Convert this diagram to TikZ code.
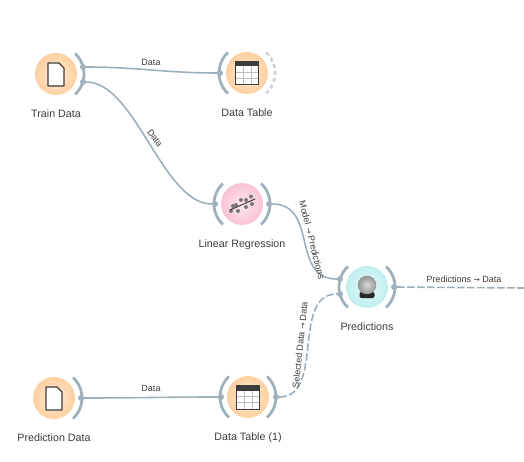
\documentclass[tikz,border=0pt]{standalone}
\usepackage{fontspec}
\setmainfont{Liberation Sans}
\newfontfamily\arrowfont{DejaVu Sans}
\usepackage{xcolor}
\usepackage{tikz}
\usetikzlibrary{positioning, calc}
\definecolor{myport}{RGB}{158,177,189}
\definecolor{mylink}{RGB}{156,175,187}
\definecolor{myghost}{RGB}{205,214,220}
\definecolor{mydark}{RGB}{60,60,60}
\definecolor{mygrid}{RGB}{190,190,190}
\definecolor{mydot}{RGB}{120,120,120}
\definecolor{orgin}{RGB}{255,236,214}
\definecolor{orgout}{RGB}{255,207,160}
\definecolor{pnkin}{RGB}{253,230,239}
\definecolor{pnkout}{RGB}{251,194,216}
\definecolor{tealin}{RGB}{230,249,249}
\definecolor{tealout}{RGB}{192,238,238}
\newcommand{\toarrow}{{\arrowfont\fontsize{7.5}{10}\selectfont →}}
\tikzset{
  widget/.style={circle, minimum size=42pt, inner sep=0pt},
  orgwidget/.style={widget, inner color=orgin, outer color=orgout},
  pnkwidget/.style={widget, inner color=pnkin, outer color=pnkout},
  tealwidget/.style={widget, inner color=tealin, outer color=tealout},
  caption/.style={font=\fontsize{10.7}{12}\selectfont, color=mydark, inner sep=0pt,
    text height=8pt, text depth=2pt},
  linklabel/.style={font=\fontsize{9}{10}\selectfont, color=mydark, inner sep=0pt},
  portdot/.style={circle, fill=myport, minimum size=6pt, inner sep=0pt},
  port/.style={line width=2.8pt, color=myport},
  ghostport/.style={line width=2.8pt, color=myghost, dash pattern=on 4pt off 3pt},
  link/.style={line width=1.6pt, color=mylink},
  dashlink/.style={link, dash pattern=on 7.5pt off 2.5pt}
}

\begin{document}
\begin{tikzpicture}[x=1pt, y=1pt]
  \useasboundingbox (0,-462) rectangle (524,0);
  % Widgets
  \node[orgwidget] (train) at (56,-74) {};
  \node[orgwidget] (table) at (247,-73) {};
  \node[pnkwidget] (linreg) at (242,-204) {};
  \node[tealwidget] (predict) at (367,-287) {};
  \node[orgwidget] (predata) at (54,-398) {};
  \node[orgwidget] (tableone) at (248,-397) {};
  % Captions
  \node[caption, below=14pt of train] (trainlbl) {Train Data};
  \node[caption, below=14pt of table] (tablelbl) {Data Table};
  \node[caption, below=14pt of linreg] (linreglbl) {Linear Regression};
  \node[caption, below=14pt of predict] (predictlbl) {Predictions};
  \node[caption, below=14pt of predata] (predatalbl) {Prediction Data};
  \node[caption, below=14pt of tableone] (tableonelbl) {Data Table (1)};
  % Left arcs
  \foreach \n in {table,linreg,predict,tableone} {
    \draw[port] ($(\n)+(133:28pt)$) arc (133:227:28pt);
  }
  % Right arcs
  \foreach \n in {train,linreg,predict,predata,tableone} {
    \draw[port] ($(\n)+(47:28pt)$) arc (47:-47:28pt);
  }
  \draw[ghostport] ($(table)+(47:28pt)$) arc (47:-47:28pt);
  % Channel dots
  \node[portdot] (trainoutA) at (83,-67) {};
  \node[portdot] (trainoutB) at (83,-82) {};
  \node[portdot] (tablein) at (220,-73) {};
  \node[portdot] (linregin) at (215,-204) {};
  \node[portdot] (linregout) at (269,-204) {};
  \node[portdot] (predictinA) at (340,-279) {};
  \node[portdot] (predictinB) at (340,-294) {};
  \node[portdot] (predictout) at (394,-287) {};
  \node[portdot] (predataout) at (81,-398) {};
  \node[portdot] (tableonein) at (221,-397) {};
  \node[portdot] (tableoneout) at (276,-397) {};
  \coordinate (edgeout) at (524,-288);
  % Links
  \draw[link] (trainoutA) to[out=0, in=180] (tablein);
  \draw[link] (trainoutB) to[out=0, in=180, looseness=0.72] (linregin);
  \draw[link] (linregout) to[out=0, in=180, looseness=1.2] (predictinA);
  \draw[link] (predataout) to[out=0, in=180] (tableonein);
  \draw[dashlink] (tableoneout) to[out=0, in=180, looseness=1] (predictinB);
  \draw[dashlink] (predictout) -- (edgeout);
  % Link labels
  \node[linklabel] (lblA) at (151,-62) {Data};
  \node[linklabel, rotate=-54] (lblB) at (155,-138) {Data};
  \node[linklabel, rotate=-76] (lblC) at (312,-240) {Model \toarrow{} Predictions};
  \node[linklabel, rotate=84] (lblD) at (300,-345) {Selected Data \toarrow{} Data};
  \node[linklabel] (lblE) at (464,-279) {Predictions \toarrow{} Data};
  \node[linklabel] (lblF) at (151,-388) {Data};
  % File icons
  \foreach \n in {train,predata} {
    \begin{scope}[shift={(\n)}]
      \draw[fill=white, draw=mydark, line width=1.2pt, line join=round]
        (-8,-12) -- (-8,11) -- (3,11) -- (8,6) -- (8,-12) -- cycle;
    \end{scope}
  }
  % Table icons
  \foreach \n in {table,tableone} {
    \begin{scope}[shift={(\n)}]
      \fill[white] (-11.5,-12) rectangle (11.5,11);
      \foreach \x in {-4,4} {
        \draw[mygrid, line width=0.6pt] (\x,-12) -- (\x,7);
      }
      \foreach \y in {1,-5.5} {
        \draw[mygrid, line width=0.6pt] (-11.5,\y) -- (11.5,\y);
      }
      \fill[mydark] (-11.5,6.5) rectangle (11.5,11.5);
      \draw[mydark, line width=1pt] (-11.5,-12) rectangle (11.5,11.5);
    \end{scope}
  }
  % Regression icon
  \begin{scope}[shift={(linreg)}]
    \foreach \p in {(-11,-7),(-9,-2),(-4,-7),(-1,4),(4,-3),(4,4),(9,7.5),(10,0),(-6,-1)} {
      \fill[mydot] \p circle (2pt);
    }
    \draw[mydark, line width=1pt] (-12,-6) -- (13,5);
  \end{scope}
  % Ball icon
  \begin{scope}[shift={(predict)}]
    \fill[black!85, rounded corners=2pt] (-7.5,-5) rectangle (7.5,-11);
    \shade[inner color=black!15, outer color=black!42] (0,2) circle (9.3pt);
  \end{scope}
\end{tikzpicture}
\end{document}
